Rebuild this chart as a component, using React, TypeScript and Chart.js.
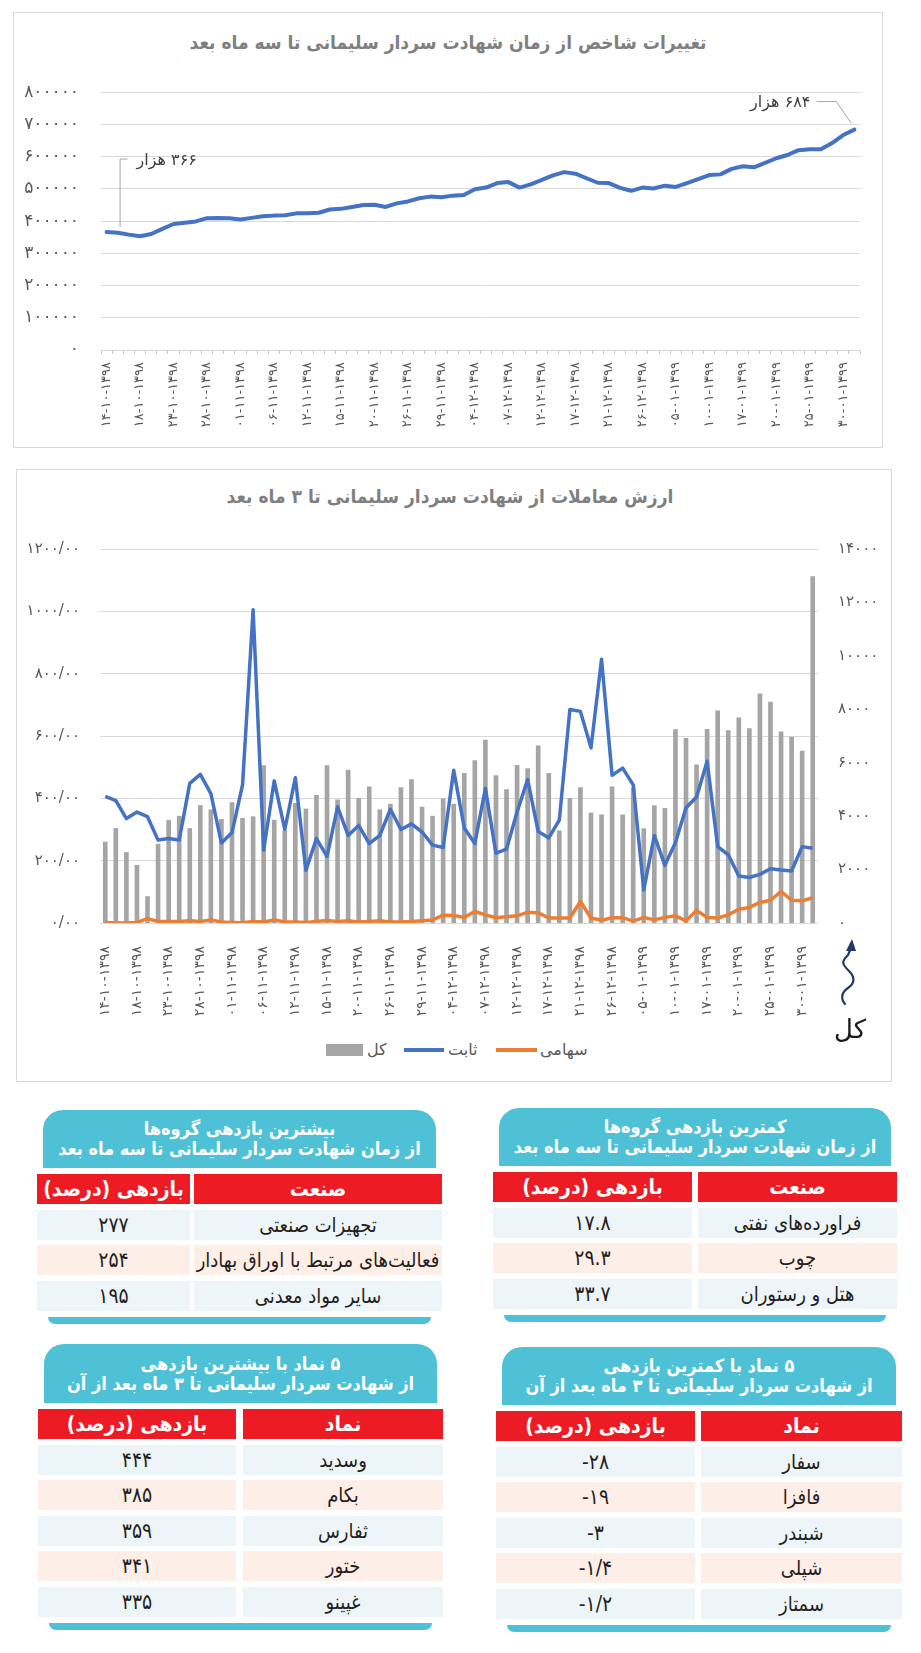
import { useEffect, useRef } from 'react';
import { Chart, registerables } from 'chart.js';
Chart.register(...registerables);

const FONT = '"DejaVu Sans", sans-serif';
const FONT_C = '"DejaVu Sans Condensed", "DejaVu Sans", sans-serif';
const CYAN = '#4fc1d6';
const RED = '#ed1c24';

// every third trading day carries a date label
const DATE_TICKS = [
  '۱۴-۱۰-۱۳۹۸', '۱۸-۱۰-۱۳۹۸', '۲۳-۱۰-۱۳۹۸', '۲۸-۱۰-۱۳۹۸', '۰۱-۱۱-۱۳۹۸', '۰۶-۱۱-۱۳۹۸',
  '۱۲-۱۱-۱۳۹۸', '۱۵-۱۱-۱۳۹۸', '۲۰-۱۱-۱۳۹۸', '۲۶-۱۱-۱۳۹۸', '۲۹-۱۱-۱۳۹۸', '۰۴-۱۲-۱۳۹۸',
  '۰۷-۱۲-۱۳۹۸', '۱۲-۱۲-۱۳۹۸', '۱۷-۱۲-۱۳۹۸', '۲۱-۱۲-۱۳۹۸', '۲۶-۱۲-۱۳۹۸', '۰۵-۰۱-۱۳۹۹',
  '۱۰-۰۱-۱۳۹۹', '۱۷-۰۱-۱۳۹۹', '۲۰-۰۱-۱۳۹۹', '۲۵-۰۱-۱۳۹۹', '۳۰-۰۱-۱۳۹۹',
];

const INDEX_VALUES = [
  366000, 364000, 358000, 353000, 360000, 376000, 391000, 395000, 399000, 409000,
  410000, 409000, 405000, 410000, 415000, 417000, 418000, 424000, 424000, 426000,
  436000, 438000, 444000, 450000, 451000, 444000, 455000, 461000, 471000, 476000,
  474000, 479000, 481000, 499000, 504000, 518000, 521000, 504000, 514000, 528000,
  542000, 552000, 547000, 533000, 519000, 518000, 503000, 494000, 504000, 501000,
  510000, 506000, 518000, 530000, 543000, 545000, 562000, 570000, 567000, 581000,
  595000, 605000, 620000, 623000, 623000, 642000, 667000, 684000,
];

const TOTAL_VALUES = [
  3030, 3540, 2640, 2160, 990, 2950, 3840, 4000, 3540, 4400,
  4240, 3880, 4510, 3920, 3980, 5890, 3850, 3450, 4480, 4270,
  4780, 5890, 4610, 5720, 4670, 5100, 4240, 4450, 5070, 5370,
  4340, 4000, 4650, 4450, 5600, 6080, 6850, 5520, 4990, 5900,
  5780, 6630, 5600, 3450, 4670, 5070, 4120, 4050, 5100, 4050,
  5050, 3530, 4390, 4290, 7240, 6910, 5920, 7250, 7940, 7200,
  7680, 7280, 8580, 8270, 7160, 6960, 6440, 12970,
];

const FIXED_VALUES = [
  406, 393, 335, 356, 341, 266, 271, 266, 448, 477,
  415, 257, 290, 443, 1005, 234, 456, 300, 466, 169,
  271, 214, 373, 281, 313, 255, 281, 365, 300, 318,
  292, 250, 242, 490, 305, 255, 432, 224, 237, 356,
  460, 294, 273, 330, 685, 679, 562, 846, 474, 497,
  443, 106, 281, 185, 258, 370, 404, 519, 245, 219,
  151, 146, 156, 174, 170, 167, 245, 240,
];

const STOCK_VALUES = [
  2, 0, 0, 2, 14, 5, 5, 5, 7, 5,
  10, 3, 2, 1, 5, 3, 10, 3, 3, 2,
  5, 8, 5, 7, 3, 5, 7, 3, 3, 5,
  7, 10, 25, 24, 18, 37, 26, 17, 20, 23,
  34, 33, 16, 16, 16, 69, 16, 9, 17, 17,
  6, 18, 10, 18, 23, 7, 40, 18, 16, 26,
  44, 50, 66, 73, 101, 73, 71, 81,
];

const SERIES_NAMES = ['کل', 'ثابت', 'سهامی'];
const START_NOTE = '۳۶۶ هزار';
const END_NOTE = '۶۸۴ هزار';

const LOW_SECTORS = ['فراورده‌های نفتی', 'چوب', 'هتل و رستوران'];
const LOW_SECTOR_RET = ['۱۷.۸', '۲۹.۳', '۳۳.۷'];
const HIGH_SECTORS = ['تجهیزات صنعتی', 'فعالیت‌های مرتبط با اوراق بهادار', 'سایر مواد معدنی'];
const HIGH_SECTOR_RET = ['۲۷۷', '۲۵۴', '۱۹۵'];
const TOP_SYMBOLS = ['وسدید', 'بکام', 'ثفارس', 'ختور', 'غپینو'];
const TOP_RET = ['۴۴۴', '۳۸۵', '۳۵۹', '۳۴۱', '۳۳۵'];
const LOW_SYMBOLS = ['سفار', 'فافزا', 'شبندر', 'شپلی', 'سمتاز'];
const LOW_RET = ['-۲۸', '-۱۹', '-۳', '-۱/۴', '-۱/۲'];

const LABELS = INDEX_VALUES.map((_, i) => (i % 3 === 0 ? DATE_TICKS[i / 3] : ''));

const fa = (s: string | number) => String(s).replace(/[0-9]/g, d => '۰۱۲۳۴۵۶۷۸۹'[Number(d)]);

const calloutPlugin = {
  id: 'callouts',
  afterDatasetsDraw(chart: any) {
    const { ctx, scales: { x, y } } = chart;
    const n = INDEX_VALUES.length - 1;
    const x0 = x.getPixelForValue(0), y0 = y.getPixelForValue(INDEX_VALUES[0]);
    const x1 = x.getPixelForValue(n), y1 = y.getPixelForValue(INDEX_VALUES[n]);
    ctx.save();
    ctx.strokeStyle = '#a6a6a6';
    ctx.lineWidth = 1;
    ctx.beginPath();
    ctx.moveTo(x0 + 13.5, y0 - 5);
    ctx.lineTo(x0 + 13.5, y0 - 73);
    ctx.lineTo(x0 + 21, y0 - 73);
    ctx.moveTo(x1 - 38, y1 - 28);
    ctx.lineTo(x1 - 18, y1 - 28);
    ctx.lineTo(x1 - 3, y1 - 6);
    ctx.stroke();
    ctx.fillStyle = '#404040';
    ctx.font = `16px ${FONT}`;
    ctx.textBaseline = 'middle';
    ctx.direction = 'rtl';
    ctx.textAlign = 'left';
    ctx.fillText(START_NOTE, x0 + 30, y0 - 71);
    ctx.textAlign = 'right';
    ctx.fillText(END_NOTE, x1 - 44, y1 - 27);
    ctx.restore();
  },
};

function IndexChart() {
  const ref = useRef<HTMLCanvasElement>(null);
  useEffect(() => {
    if (!ref.current) return;
    const chart = new Chart(ref.current, {
      type: 'line',
      data: {
        labels: LABELS,
        datasets: [{
          data: INDEX_VALUES, borderColor: '#4472c4', borderWidth: 4, pointRadius: 0,
          tension: 0, borderJoinStyle: 'round', borderCapStyle: 'round',
        }],
      },
      options: {
        animation: false,
        responsive: false,
        layout: { padding: { top: 24, right: 23, left: 0, bottom: 0 } },
        plugins: { legend: { display: false }, tooltip: { enabled: false } },
        scales: {
          x: {
            offset: true,
            grid: { offset: true, drawOnChartArea: false, drawTicks: true, tickLength: 4, color: '#c8c8c8' },
            border: { display: true, color: '#d9d9d9' },
            ticks: { autoSkip: false, minRotation: 90, maxRotation: 90, padding: 8, color: '#595959', font: { family: FONT, size: 13 } },
            afterFit: (s: any) => { s.height = 95; },
          },
          y: {
            min: 0, max: 800000,
            grid: { color: '#d9d9d9', drawTicks: false },
            border: { display: false },
            ticks: { stepSize: 100000, padding: 22, color: '#595959', font: { family: FONT, size: 17 }, callback: (v: any) => fa(v) },
            afterFit: (s: any) => { s.width = 88; },
          },
        },
      },
      plugins: [calloutPlugin],
    } as any);
    return () => { chart.destroy(); };
  }, []);
  return <canvas ref={ref} width={870} height={385} style={{ position: 'absolute', left: 13, top: 60, width: 870, height: 385 }} />;
}

function TradeChart() {
  const ref = useRef<HTMLCanvasElement>(null);
  useEffect(() => {
    if (!ref.current) return;
    const chart = new Chart(ref.current, {
      type: 'bar',
      data: {
        labels: LABELS,
        datasets: [
          { type: 'bar', label: SERIES_NAMES[0], data: TOTAL_VALUES, yAxisID: 'y1', backgroundColor: '#a5a5a5', barThickness: 4, order: 3 },
          { type: 'line', label: SERIES_NAMES[1], data: FIXED_VALUES, yAxisID: 'y', borderColor: '#4472c4', borderWidth: 3.5, pointRadius: 0, tension: 0, borderJoinStyle: 'round', order: 2 },
          { type: 'line', label: SERIES_NAMES[2], data: STOCK_VALUES, yAxisID: 'y', borderColor: '#ed7d31', borderWidth: 3.5, pointRadius: 0, tension: 0, borderJoinStyle: 'round', order: 1 },
        ],
      },
      options: {
        animation: false,
        responsive: false,
        layout: { padding: { top: 19, right: 0, left: 0, bottom: 0 } },
        plugins: { legend: { display: false }, tooltip: { enabled: false } },
        scales: {
          x: {
            offset: true,
            grid: { display: false },
            border: { display: false },
            ticks: { autoSkip: false, minRotation: 90, maxRotation: 90, padding: 15, color: '#595959', font: { family: FONT, size: 14 } },
            afterFit: (s: any) => { s.height = 107; },
          },
          y: {
            position: 'left', min: 0, max: 1200,
            grid: { color: '#d9d9d9', drawTicks: false },
            border: { display: false },
            ticks: { stepSize: 200, padding: 20, color: '#595959', font: { family: FONT, size: 15 }, callback: (v: any) => fa(Number(v).toFixed(2)).replace('.', '/') },
            afterFit: (s: any) => { s.width = 84; },
          },
          y1: {
            position: 'right', min: 0, max: 14000,
            grid: { display: false, drawTicks: false },
            border: { display: false },
            ticks: { stepSize: 2000, padding: 20, color: '#595959', font: { family: FONT, size: 15 }, callback: (v: any) => fa(v) },
            afterFit: (s: any) => { s.width = 74; },
          },
        },
      },
    } as any);
    return () => { chart.destroy(); };
  }, []);
  return <canvas ref={ref} width={876} height={510} style={{ position: 'absolute', left: 16, top: 520, width: 876, height: 510 }} />;
}

type TableProps = {
  left: number; top: number; width: number; valueW: number; gap: number; headH: number;
  title: string[]; heads: string[]; names: string[]; values: string[];
};

function RetTable(p: TableProps) {
  const cell = { height: 30, display: 'flex', alignItems: 'center', justifyContent: 'center', fontFamily: FONT_C, whiteSpace: 'nowrap' } as const;
  const valueCell = { ...cell, width: p.valueW, flexShrink: 0 };
  const nameCell = { ...cell, flex: 1, minWidth: 0, overflow: 'visible' } as const;
  return (
    <div style={{ position: 'absolute', left: p.left, top: p.top, width: p.width }}>
      <div style={{
        margin: '0 6px', height: p.headH, background: CYAN, borderRadius: '20px 20px 0 0', color: '#fff',
        fontFamily: FONT_C, fontWeight: 'bold', fontSize: 18, lineHeight: '20px', display: 'flex', flexDirection: 'column',
        justifyContent: 'center', alignItems: 'center', direction: 'rtl',
      }}>
        {p.title.map(t => <div key={t}>{t}</div>)}
      </div>
      <div style={{ display: 'flex', gap: p.gap, marginTop: 6 }}>
        <div style={{ ...valueCell, background: RED, color: '#fff', fontWeight: 'bold', fontSize: 21, direction: 'rtl' }}>{p.heads[0]}</div>
        <div style={{ ...nameCell, background: RED, color: '#fff', fontWeight: 'bold', fontSize: 21, direction: 'rtl' }}>{p.heads[1]}</div>
      </div>
      {p.names.map((n, i) => {
        const bg = i % 2 === 0 ? '#eef5f9' : '#fdeee7';
        return (
          <div key={n} style={{ display: 'flex', gap: p.gap, marginTop: 5.5 }}>
            <div style={{ ...valueCell, background: bg, color: '#231f20', fontSize: 21, direction: 'ltr' }}>{p.values[i]}</div>
            <div style={{ ...nameCell, background: bg, color: '#231f20', fontSize: 20, direction: 'rtl' }}>{n}</div>
          </div>
        );
      })}
      <div style={{ margin: '6px 11px 0', height: 7, background: CYAN, borderRadius: '0 0 10px 10px' }} />
    </div>
  );
}

export default function App() {
  const legendText = { position: 'absolute', top: 1040, lineHeight: '20px', fontSize: 16, color: '#595959' } as const;
  const titleStyle = { position: 'absolute', textAlign: 'center', fontFamily: FONT_C, fontWeight: 'bold', fontSize: 19, lineHeight: '24px', color: '#7f7f7f', direction: 'rtl' } as const;
  return (
    <div style={{ position: 'absolute', left: 0, top: 0, width: 921, height: 1653, background: '#fff', fontFamily: FONT }}>
      <div style={{ position: 'absolute', left: 13, top: 12, width: 870, height: 436, border: '1px solid #d9d9d9', boxSizing: 'border-box' }} />
      <div style={{ ...titleStyle, left: 13, top: 30, width: 870 }}>
        تغییرات شاخص از زمان شهادت سردار سلیمانی تا سه ماه بعد
      </div>
      <IndexChart />

      <div style={{ position: 'absolute', left: 16, top: 469, width: 876, height: 613, border: '1px solid #d9d9d9', boxSizing: 'border-box' }} />
      <div style={{ ...titleStyle, left: 12, top: 484, width: 876 }}>
        ارزش معاملات از شهادت سردار سلیمانی تا ۳ ماه بعد
      </div>
      <TradeChart />

      <div style={{ position: 'absolute', left: 326, top: 1044, width: 37, height: 12, background: '#a5a5a5' }} />
      <div style={{ ...legendText, left: 367 }}>{SERIES_NAMES[0]}</div>
      <div style={{ position: 'absolute', left: 404, top: 1048, width: 40, height: 4, background: '#4472c4' }} />
      <div style={{ ...legendText, left: 448 }}>{SERIES_NAMES[1]}</div>
      <div style={{ position: 'absolute', left: 496, top: 1048, width: 41, height: 4, background: '#ed7d31' }} />
      <div style={{ ...legendText, left: 540 }}>{SERIES_NAMES[2]}</div>

      <svg style={{ position: 'absolute', left: 834, top: 936 }} width={30} height={72} viewBox="0 0 30 72">
        <path d="M 11 68 C 6 62, 8 56, 14 52 S 22 42, 15 35 S 7 26, 14 19 L 17 12" fill="none" stroke="#1f3864" strokeWidth={2.2} strokeLinecap="round" />
        <path d="M 18 3 L 12 15 L 22 15 Z" fill="#1f3864" />
      </svg>
      <div style={{ position: 'absolute', left: 832, top: 1014, width: 36, textAlign: 'center', fontSize: 26, lineHeight: '30px', color: '#1a1a1a', direction: 'rtl' }}>
        {SERIES_NAMES[0]}
      </div>

      <RetTable left={493} top={1108} width={404} valueW={199} gap={6} headH={58}
        title={['کمترین بازدهی گروه‌ها', 'از زمان شهادت سردار سلیمانی تا سه ماه بعد']}
        heads={['بازدهی (درصد)', 'صنعت']} names={LOW_SECTORS} values={LOW_SECTOR_RET} />
      <RetTable left={37} top={1110} width={405} valueW={153} gap={4} headH={58}
        title={['بیشترین بازدهی گروه‌ها', 'از زمان شهادت سردار سلیمانی تا سه ماه بعد']}
        heads={['بازدهی (درصد)', 'صنعت']} names={HIGH_SECTORS} values={HIGH_SECTOR_RET} />
      <RetTable left={38} top={1344} width={405} valueW={198} gap={7} headH={59}
        title={['۵ نماد با بیشترین بازدهی', 'از شهادت سردار سلیمانی تا ۳ ماه بعد از آن']}
        heads={['بازدهی (درصد)', 'نماد']} names={TOP_SYMBOLS} values={TOP_RET} />
      <RetTable left={496} top={1347} width={406} valueW={199} gap={6} headH={58}
        title={['۵ نماد با کمترین بازدهی', 'از شهادت سردار سلیمانی تا ۳ ماه بعد از آن']}
        heads={['بازدهی (درصد)', 'نماد']} names={LOW_SYMBOLS} values={LOW_RET} />
    </div>
  );
}
